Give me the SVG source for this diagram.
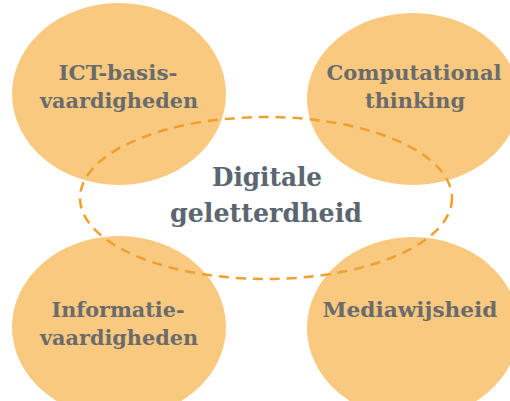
<svg xmlns="http://www.w3.org/2000/svg" width="510" height="401" viewBox="0 0 510 401">
<style>
.circle{fill:#F8C97F;}
.lbl{font-family:"DejaVu Serif","Liberation Serif",serif;font-weight:bold;font-size:20px;fill:#6b6b6b;text-anchor:middle;}
.center{font-family:"DejaVu Serif","Liberation Serif",serif;font-weight:bold;font-size:26px;fill:#5c6670;text-anchor:middle;}
.dash{fill:none;stroke:#F0A030;stroke-width:2.5;stroke-dasharray:10 7;}
</style>
<rect width="510" height="401" fill="#ffffff"/>
<g id="node-ict">
<ellipse class="circle" cx="119" cy="94" rx="107" ry="91"/>
<text class="lbl" x="118" y="80" textLength="119" lengthAdjust="spacingAndGlyphs">ICT-basis-</text>
<text class="lbl" x="119" y="108" textLength="158" lengthAdjust="spacingAndGlyphs">vaardigheden</text>
</g>
<g id="node-ct">
<ellipse class="circle" cx="413" cy="99" rx="106" ry="86"/>
<text class="lbl" x="414" y="80" textLength="175" lengthAdjust="spacingAndGlyphs">Computational</text>
<text class="lbl" x="415" y="108" textLength="100" lengthAdjust="spacingAndGlyphs">thinking</text>
</g>
<g id="node-info">
<ellipse class="circle" cx="119" cy="327" rx="107" ry="91"/>
<text class="lbl" x="118" y="317" textLength="133" lengthAdjust="spacingAndGlyphs">Informatie-</text>
<text class="lbl" x="119" y="345" textLength="158" lengthAdjust="spacingAndGlyphs">vaardigheden</text>
</g>
<g id="node-media">
<ellipse class="circle" cx="413" cy="328" rx="106" ry="91"/>
<text class="lbl" x="410" y="317" textLength="175" lengthAdjust="spacingAndGlyphs">Mediawijsheid</text>
</g>
<g id="connectors">
<ellipse class="dash" cx="266" cy="198" rx="186" ry="81"/>
</g>
<g id="node-center">
<text class="center" x="267" y="186" textLength="110" lengthAdjust="spacingAndGlyphs">Digitale</text>
<text class="center" x="266" y="222" textLength="192" lengthAdjust="spacingAndGlyphs">geletterdheid</text>
</g>
</svg>
